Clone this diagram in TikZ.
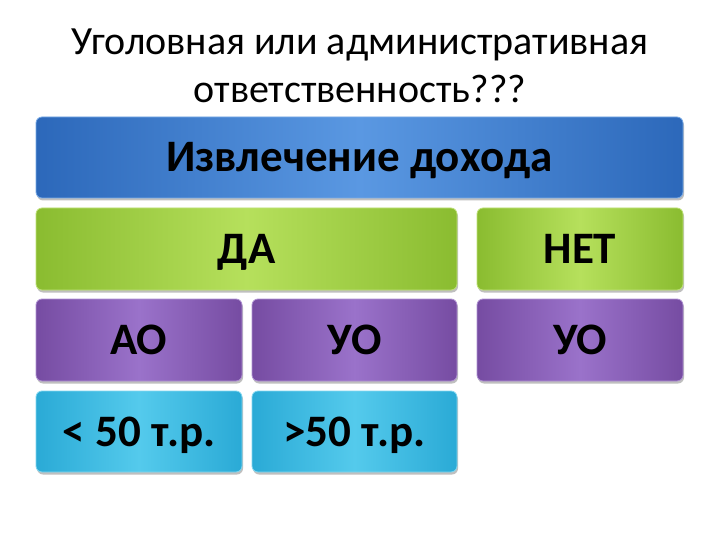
\documentclass[tikz,border=0pt]{standalone}
\usepackage{fontspec}
\setmainfont{Carlito}
\usetikzlibrary{shadows}
\definecolor{blueE}{RGB}{44,104,186}
\definecolor{blueM}{RGB}{90,152,226}
\definecolor{blueB}{RGB}{120,170,230}
\definecolor{greenE}{RGB}{138,188,48}
\definecolor{greenM}{RGB}{182,224,92}
\definecolor{greenB}{RGB}{190,225,120}
\definecolor{purpE}{RGB}{118,76,162}
\definecolor{purpM}{RGB}{154,114,202}
\definecolor{purpB}{RGB}{175,145,210}
\definecolor{cyanE}{RGB}{42,170,214}
\definecolor{cyanM}{RGB}{84,202,236}
\definecolor{cyanB}{RGB}{130,215,240}
\tikzset{
  boxbase/.style={rectangle, rounded corners=6pt, line width=0.8pt,
    font=\fontsize{45}{50}\selectfont\bfseries, text=black,
    text height=29pt, text depth=0pt, inner sep=0pt,
    drop shadow={shadow xshift=1pt, shadow yshift=-2.5pt, opacity=0.25, fill=black}},
  bluebox/.style={boxbase, draw=blueB, left color=blueE, right color=blueE, middle color=blueM},
  greenbox/.style={boxbase, draw=greenB, left color=greenE, right color=greenE, middle color=greenM},
  purpbox/.style={boxbase, draw=purpB, left color=purpE, right color=purpE, middle color=purpM},
  cyanbox/.style={boxbase, draw=cyanB, left color=cyanE, right color=cyanE, middle color=cyanM},
  titletext/.style={font=\fontsize{40}{48}\selectfont, text=black, anchor=base, inner sep=0pt}
}
\begin{document}
\begin{tikzpicture}[x=1pt,y=-1pt]
\useasboundingbox[fill=white] (0,0) rectangle (720,540);
\node[titletext] (t1) at (360,55) {Уголовная или административная};
\node[titletext] (t2) at (360,103) {ответственность???};

\node[bluebox, minimum width=647pt, minimum height=81pt] (top) at (359.5,157.5) {Извлечение дохода};

\node[greenbox, minimum width=421pt, minimum height=82pt] (da) at (246.5,249) {ДА};
\node[greenbox, minimum width=206pt, minimum height=82pt] (net) at (580,249) {НЕТ};

\node[purpbox, minimum width=206pt, minimum height=82pt] (ao) at (139,340) {АО};
\node[purpbox, minimum width=205pt, minimum height=82pt] (uo1) at (354.5,340) {УО};
\node[purpbox, minimum width=206pt, minimum height=82pt] (uo2) at (580,340) {УО};

\node[cyanbox, minimum width=206pt, minimum height=81pt] (lt) at (139,431.5) {< 50 т.р.};
\node[cyanbox, minimum width=205pt, minimum height=81pt] (gt) at (354.5,431.5) {>50 т.р.};
\end{tikzpicture}
\end{document}
